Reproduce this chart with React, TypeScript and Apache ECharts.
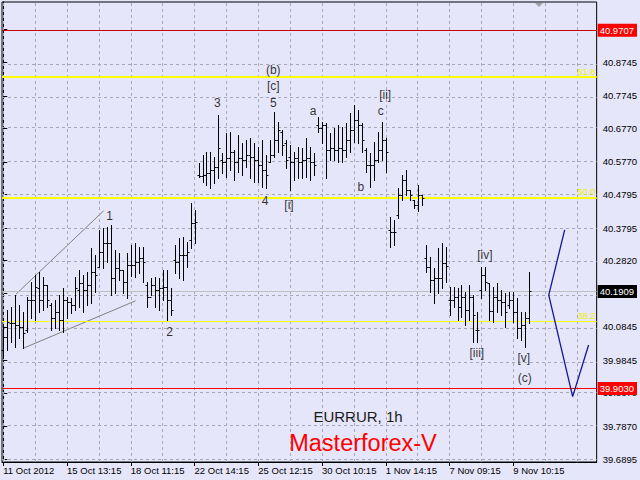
import { useEffect, useRef } from "react";
import * as echarts from "echarts";

// ---- data (EURRUR, 1h OHLC bars) ----
const opens = [
  40.015, 40.054, 40.096, 40.096, 40.090, 40.084, 40.075, 40.164, 40.164, 40.200,
  40.164, 40.209, 40.150, 40.111, 40.129, 40.105, 40.164, 40.158, 40.150, 40.194,
  40.215, 40.194, 40.209, 40.248, 40.263, 40.308, 40.335, 40.335, 40.230, 40.260,
  40.254, 40.218, 40.269, 40.269, 40.278, 40.290, 40.209, 40.173, 40.209, 40.194,
  40.200, 40.203, 40.164, 40.284, 40.278, 40.299, 40.299, 40.344, 40.394, 40.538,
  40.535, 40.538, 40.544, 40.553, 40.562, 40.583, 40.577, 40.589, 40.607, 40.577,
  40.589, 40.583, 40.598, 40.592, 40.583, 40.568, 40.553, 40.577, 40.598, 40.642,
  40.666, 40.633, 40.592, 40.577, 40.589, 40.577, 40.583, 40.589, 40.577, 40.687,
  40.678, 40.687, 40.613, 40.618, 40.613, 40.618, 40.613, 40.642, 40.672, 40.702,
  40.687, 40.613, 40.568, 40.568, 40.583, 40.613, 40.642, 40.374, 40.368, 40.418,
  40.478, 40.523, 40.493, 40.463, 40.448, 40.478, 40.290, 40.263, 40.224, 40.230,
  40.230, 40.275, 40.164, 40.164, 40.173, 40.144, 40.173, 40.135, 40.173, 40.075,
  40.194, 40.239, 40.215, 40.132, 40.173, 40.164, 40.158, 40.150, 40.164, 40.129,
  40.081, 40.090, 40.111,
];
const highs = [
  40.084, 40.135, 40.144, 40.179, 40.150, 40.129, 40.173, 40.218, 40.239, 40.248,
  40.233, 40.209, 40.156, 40.164, 40.179, 40.200, 40.173, 40.170, 40.233, 40.254,
  40.239, 40.248, 40.320, 40.299, 40.374, 40.380, 40.383, 40.389, 40.314, 40.305,
  40.254, 40.305, 40.329, 40.335, 40.323, 40.323, 40.218, 40.230, 40.233, 40.230,
  40.254, 40.254, 40.200, 40.329, 40.350, 40.353, 40.338, 40.454, 40.433, 40.574,
  40.598, 40.607, 40.607, 40.592, 40.717, 40.604, 40.663, 40.666, 40.613, 40.657,
  40.633, 40.642, 40.648, 40.633, 40.621, 40.642, 40.598, 40.642, 40.726, 40.696,
  40.672, 40.642, 40.627, 40.607, 40.621, 40.618, 40.648, 40.621, 40.604, 40.711,
  40.696, 40.693, 40.663, 40.678, 40.687, 40.681, 40.693, 40.723, 40.747, 40.732,
  40.693, 40.618, 40.604, 40.636, 40.666, 40.696, 40.648, 40.412, 40.403, 40.499,
  40.538, 40.553, 40.493, 40.463, 40.508, 40.478, 40.329, 40.293, 40.260, 40.320,
  40.335, 40.323, 40.203, 40.203, 40.200, 40.209, 40.188, 40.209, 40.179, 40.129,
  40.263, 40.263, 40.215, 40.203, 40.215, 40.194, 40.185, 40.188, 40.188, 40.170,
  40.129, 40.129, 40.248,
];
const lows = [
  39.991, 40.015, 40.039, 40.024, 40.051, 40.021, 40.069, 40.111, 40.105, 40.129,
  40.135, 40.144, 40.075, 40.081, 40.075, 40.069, 40.111, 40.126, 40.135, 40.144,
  40.129, 40.150, 40.156, 40.188, 40.263, 40.260, 40.278, 40.179, 40.185, 40.224,
  40.185, 40.170, 40.236, 40.233, 40.245, 40.218, 40.144, 40.179, 40.144, 40.135,
  40.164, 40.105, 40.120, 40.245, 40.230, 40.224, 40.263, 40.320, 40.335, 40.532,
  40.517, 40.508, 40.499, 40.514, 40.529, 40.544, 40.532, 40.553, 40.523, 40.547,
  40.538, 40.562, 40.529, 40.517, 40.517, 40.502, 40.499, 40.577, 40.592, 40.607,
  40.598, 40.559, 40.493, 40.523, 40.529, 40.529, 40.532, 40.523, 40.538, 40.666,
  40.633, 40.529, 40.583, 40.583, 40.577, 40.577, 40.592, 40.607, 40.636, 40.633,
  40.607, 40.547, 40.502, 40.523, 40.577, 40.583, 40.547, 40.323, 40.329, 40.409,
  40.463, 40.478, 40.463, 40.439, 40.430, 40.448, 40.248, 40.188, 40.156, 40.185,
  40.200, 40.218, 40.120, 40.144, 40.105, 40.114, 40.090, 40.105, 40.039, 40.039,
  40.170, 40.194, 40.105, 40.099, 40.129, 40.120, 40.084, 40.141, 40.099, 40.051,
  40.045, 40.024, 40.096,
];
const closes = [
  40.054, 40.099, 40.096, 40.090, 40.084, 40.066, 40.164, 40.164, 40.203, 40.164,
  40.209, 40.164, 40.111, 40.129, 40.105, 40.164, 40.158, 40.150, 40.200, 40.215,
  40.194, 40.209, 40.248, 40.239, 40.308, 40.335, 40.335, 40.230, 40.260, 40.254,
  40.218, 40.269, 40.269, 40.278, 40.290, 40.278, 40.173, 40.209, 40.194, 40.200,
  40.203, 40.164, 40.135, 40.278, 40.299, 40.299, 40.308, 40.394, 40.397, 40.535,
  40.538, 40.544, 40.553, 40.562, 40.618, 40.577, 40.589, 40.607, 40.577, 40.589,
  40.583, 40.598, 40.592, 40.583, 40.568, 40.553, 40.538, 40.598, 40.642, 40.672,
  40.627, 40.583, 40.577, 40.589, 40.577, 40.583, 40.589, 40.577, 40.568, 40.678,
  40.687, 40.613, 40.618, 40.613, 40.618, 40.613, 40.642, 40.672, 40.702, 40.687,
  40.642, 40.568, 40.568, 40.583, 40.613, 40.642, 40.607, 40.368, 40.368, 40.478,
  40.523, 40.493, 40.478, 40.448, 40.478, 40.469, 40.263, 40.224, 40.230, 40.230,
  40.275, 40.266, 40.164, 40.173, 40.144, 40.173, 40.135, 40.173, 40.120, 40.075,
  40.239, 40.218, 40.132, 40.173, 40.164, 40.158, 40.129, 40.164, 40.129, 40.081,
  40.090, 40.111, 40.1909,
];

const timeLabels = [
  "11 Oct 2012", "15 Oct 13:15", "18 Oct 11:15", "22 Oct 14:15", "25 Oct 12:15",
  "30 Oct 10:15", "1 Nov 14:15", "7 Nov 09:15", "9 Nov 10:15",
];
const timeLabelBars = [0, 16, 32, 48, 64, 80, 96, 112, 128];
const gridBars = [0, 8, 16, 24, 32, 40, 48, 56, 64, 72, 80, 88, 96, 104, 112, 120, 128, 136, 144];

const priceTicks = [
  40.972, 40.8745, 40.7745, 40.677, 40.577, 40.4795, 40.3795, 40.282, 40.1845,
  40.0845, 39.9845, 39.887, 39.787, 39.6895,
];
const priceLabels = [
  40.8745, 40.7745, 40.677, 40.577, 40.4795, 40.3795, 40.282, 40.0845, 39.9845,
  39.887, 39.787, 39.6895,
];

const fibNames = ["61.8", "50.0", "38.2"];
const fibPrices = [40.8336, 40.4693, 40.0997];
const redLevelTop = 40.9707;
const redLevelBottom = 39.903;
const bidPrice = 40.1909;

const waveNames = ["1", "2", "3", "4", "5", "[c]", "(b)", "a", "[ii]", "c", "b", "[i]", "[iv]", "[iii]", "[v]", "(c)"];
const waveBars = [26.7, 41.75, 53.75, 65.7, 67.75, 67.75, 67.75, 77.75, 95.85, 94.75, 89.75, 71.7, 120.85, 118.85, 130.65, 130.85];
const wavePrices = [40.415, 40.07, 40.752, 40.46, 40.754, 40.804, 40.852, 40.729, 40.777, 40.73, 40.503, 40.448, 40.299, 40.007, 39.992, 39.931];

const wedgeUpperBars = [3.2, 25.2];
const wedgeUpperPrices = [40.182, 40.431];
const wedgeLowerBars = [4.95, 33.2];
const wedgeLowerPrices = [40.02, 40.162];

const forecastBars = [140.9, 136.9, 142.9, 146.9];
const forecastPrices = [40.374, 40.179, 39.876, 40.03];

const FONT = "'Liberation Sans', Arial, sans-serif";

export default function App() {
  const ref = useRef<HTMLDivElement>(null);
  useEffect(() => {
    if (!ref.current) return;
    const chart = echarts.init(ref.current, null, { renderer: "svg" });

    const barData = opens.map((o, i) => [i, o, highs[i], lows[i], closes[i]]);

    const boxLabel = (text: string, bg: string) => ({
      show: true,
      position: "end",
      formatter: text,
      backgroundColor: bg,
      color: "#ffffff",
      padding: [2, 3, 1, 2],
      distance: 1,
      fontSize: 9.5,
      fontFamily: FONT,
    });

    const option: any = {
      animation: false,
      backgroundColor: "#e6e6fa",
      grid: {
        left: 2,
        right: 41,
        top: 2,
        bottom: 18,
        show: true,
        borderColor: "#000000",
        borderWidth: 1,
        backgroundColor: "transparent",
      },
      xAxis: {
        type: "value",
        min: -0.325,
        max: 148.925,
        axisLine: { show: true, lineStyle: { color: "#000" } },
        axisTick: { show: true, customValues: timeLabelBars, length: 4, lineStyle: { color: "#000" } },
        axisLabel: {
          customValues: timeLabelBars,
          formatter: (v: number) => {
            const k = timeLabelBars.indexOf(Math.round(v));
            return k >= 0 ? timeLabels[k] : "";
          },
          align: "left",
          margin: 3,
          color: "#000",
          fontSize: 9.5,
          fontFamily: FONT,
        },
        splitLine: { show: false },
      },
      yAxis: {
        type: "value",
        position: "right",
        min: 39.6806,
        max: 41.0546,
        axisLine: { show: true, lineStyle: { color: "#000" } },
        axisTick: { show: true, customValues: priceTicks, length: 4, lineStyle: { color: "#000" } },
        axisLabel: {
          customValues: priceLabels,
          formatter: (v: number) => v.toFixed(4),
          margin: 6,
          color: "#000",
          fontSize: 9.5,
          fontFamily: FONT,
        },
        splitLine: { show: false },
      },
      graphic: [
        {
          type: "polygon",
          shape: { points: [[535, 3], [543, 3], [539, 7]] },
          style: { fill: "#a0a0a8" },
        },
        {
          type: "text",
          x: 358,
          y: 416,
          style: {
            text: "EURRUR, 1h",
            fill: "#1a1a1a",
            font: "15px " + FONT,
            align: "center",
            verticalAlign: "middle",
          },
        },
        {
          type: "text",
          x: 363,
          y: 443,
          style: {
            text: "Masterforex-V",
            fill: "#ff0000",
            font: "23.5px " + FONT,
            align: "center",
            verticalAlign: "middle",
          },
        },
      ],
      series: [
        {
          type: "line",
          z: 1,
          data: wedgeUpperBars.map((b, i) => [b, wedgeUpperPrices[i]]),
          symbol: "none",
          lineStyle: { color: "#808080", width: 1 },
          markLine: {
            silent: true,
            symbol: ["none", "none"],
            label: { show: false },
            lineStyle: { color: "#a8a8b4", type: [3, 3], width: 1 },
            data: [
              ...priceTicks.map((v) => ({ yAxis: v })),
              ...gridBars.map((b) => ({ xAxis: b })),
            ],
          },
        },
        {
          type: "line",
          z: 2,
          data: wedgeLowerBars.map((b, i) => [b, wedgeLowerPrices[i]]),
          symbol: "none",
          lineStyle: { color: "#808080", width: 1 },
          markLine: {
            silent: true,
            symbol: ["none", "none"],
            data: [
              ...fibPrices.map((v, k) => ({
                yAxis: v,
                lineStyle: { color: "#ffff00", type: "solid", width: k === 2 ? 1 : 2 },
                label: {
                  show: true,
                  position: "insideEndTop",
                  formatter: fibNames[k],
                  color: "#f0f000",
                  fontSize: 9.5,
                  fontFamily: FONT,
                  distance: 1,
                },
              })),
              { yAxis: bidPrice, lineStyle: { color: "#c0c0c0", type: "solid", width: 1 }, label: boxLabel(bidPrice.toFixed(4), "#000000") },
              { yAxis: redLevelTop, lineStyle: { color: "#cc0000", type: "solid", width: 1 }, label: boxLabel(redLevelTop.toFixed(4), "#ff0000") },
              { yAxis: redLevelBottom, lineStyle: { color: "#ff0000", type: "solid", width: 1 }, label: boxLabel(redLevelBottom.toFixed(4), "#ff0000") },
            ],
          },
        },
        {
          type: "custom",
          z: 5,
          data: barData,
          encode: { x: 0, y: [1, 2, 3, 4] },
          renderItem: (_p: any, api: any) => {
            const i = api.value(0);
            const po = api.coord([i, api.value(1)]);
            const ph = api.coord([i, api.value(2)]);
            const pl = api.coord([i, api.value(3)]);
            const pc = api.coord([i, api.value(4)]);
            const x = Math.round(po[0]) + 0.5;
            const oy = Math.round(po[1]) + 0.5;
            const cy = Math.round(pc[1]) + 0.5;
            const style = { stroke: "#000000", lineWidth: 1 };
            return {
              type: "group",
              children: [
                { type: "line", shape: { x1: x, y1: Math.round(ph[1]), x2: x, y2: Math.round(pl[1]) + 1 }, style },
                { type: "line", shape: { x1: x - 2, y1: oy, x2: x, y2: oy }, style },
                { type: "line", shape: { x1: x, y1: cy, x2: x + 2, y2: cy }, style },
              ],
            };
          },
        },
        {
          type: "line",
          z: 6,
          data: forecastBars.map((b, i) => [b, forecastPrices[i]]),
          symbol: "none",
          lineStyle: { color: "#14149a", width: 1.3 },
        },
        {
          type: "scatter",
          z: 7,
          symbol: "circle",
          symbolSize: 1,
          itemStyle: { color: "rgba(0,0,0,0)" },
          data: waveNames.map((n, i) => ({ name: n, value: [waveBars[i], wavePrices[i]] })),
          label: {
            show: true,
            position: "inside",
            formatter: "{b}",
            color: "#000",
            fontSize: 12,
            fontFamily: FONT,
          },
        },
      ],
    };

    chart.setOption(option);
    return () => chart.dispose();
  }, []);

  return (
    <div
      ref={ref}
      style={{ position: "fixed", left: 0, top: 0, width: 640, height: 480 }}
    />
  );
}
